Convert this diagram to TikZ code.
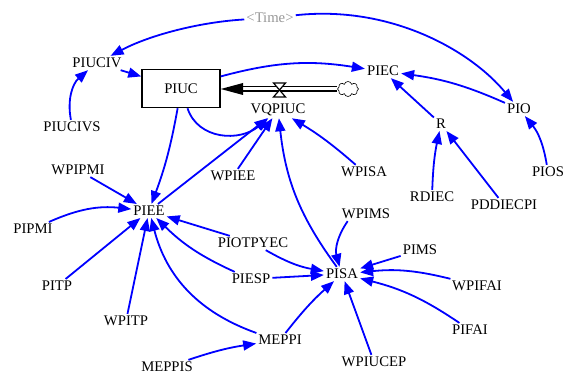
\documentclass[tikz,border=0pt]{standalone}
\usepackage{fontspec}
\setmainfont{Liberation Serif}
\usetikzlibrary{arrows.meta,shapes.symbols}
\definecolor{timegray}{RGB}{150,150,150}
\definecolor{linkblue}{RGB}{0,0,255}
\begin{document}
\begin{tikzpicture}[x=1pt,y=1pt,
  lbl/.style={inner sep=2pt, font=\fontsize{14.7}{17}\selectfont},
  conn/.style={draw=linkblue, line width=1.8pt, -{Triangle[length=13pt,width=10pt]}},
  stock/.style={draw, line width=1.5pt, minimum width=78pt, minimum height=38pt, inner sep=0pt, font=\fontsize{14.7}{17}\selectfont},
  pipe/.style={draw, line width=1.1pt, double distance=3pt},
  cloudbox/.style={cloud, cloud puffs=8, draw, line width=0.6pt, fill=white, minimum width=21pt, minimum height=15pt, inner sep=0pt}
]
\useasboundingbox (0,0) rectangle (573,-379);

% nodes
\node[lbl, text=timegray] (Time) at (270,-18) {<Time>};
\node[lbl] (PIUCIV) at (97,-63) {PIUCIV};
\node[stock] (PIUC) at (181,-88.5) {PIUC};
\node[lbl] (PIUCIVS) at (72,-127) {PIUCIVS};
\node[lbl] (PIEC) at (383,-71) {PIEC};
\node[lbl] (PIO) at (519,-109) {PIO};
\node[lbl] (R) at (441,-124) {R};
\node[lbl] (WPISA) at (364,-172) {WPISA};
\node[lbl] (PIOS) at (548,-172) {PIOS};
\node[lbl] (RDIEC) at (432,-197) {RDIEC};
\node[lbl] (PDDIECPI) at (504,-205) {PDDIECPI};
\node[lbl] (VQPIUC) at (278,-110) {VQPIUC};
\node[lbl] (PIEE) at (149,-211) {PIEE};
\node[lbl] (WPIPMI) at (78,-170) {WPIPMI};
\node[lbl] (WPIEE) at (233,-176) {WPIEE};
\node[lbl] (PIPMI) at (33,-229) {PIPMI};
\node[lbl] (PIOTPYEC) at (253,-243) {PIOTPYEC};
\node[lbl] (WPIMS) at (366,-214) {WPIMS};
\node[lbl] (PIMS) at (420,-250) {PIMS};
\node[lbl] (PISA) at (342,-274) {PISA};
\node[lbl] (PIESP) at (251,-279) {PIESP};
\node[lbl] (WPIFAI) at (477,-286) {WPIFAI};
\node[lbl] (PIFAI) at (470,-330) {PIFAI};
\node[lbl] (MEPPI) at (280,-340) {MEPPI};
\node[lbl] (WPIUCEP) at (374,-362) {WPIUCEP};
\node[lbl] (PITP) at (57,-286) {PITP};
\node[lbl] (WPITP) at (126,-321) {WPITP};
\node[lbl] (MEPPIS) at (167,-367) {MEPPIS};

% flow pipe with valve and cloud
\node[cloudbox] (cloud) at (348,-89) {};
\coordinate (pb) at (243,-89);
\draw[pipe] (cloud.west) -- (pb);
\fill[black] (PIUC.east |- pb) -- ([yshift=6pt]pb) -- ([yshift=-6pt]pb) -- cycle;
\filldraw[fill=white, line width=1.2pt] (273.5,-83) -- (285.5,-83) -- (273.5,-97) -- (285.5,-97) -- cycle;

% connectors
\draw[conn] (Time) .. controls (200,-22) and (150,-35) .. (PIUCIV);
\draw[conn] (Time) .. controls (390,-5) and (470,-50) .. (PIO);
\draw[conn] (PIUCIV) -- (PIUC);
\draw[conn] (PIUCIVS) to[bend left=30] (PIUCIV);
\draw[conn] (PIUC) to[bend left=12] (PIEC);
\draw[conn] (PIO) to[bend right=8] (PIEC);
\draw[conn] (R) -- (PIEC);
\draw[conn] (RDIEC) to[bend left=5] (R);
\draw[conn] (PDDIECPI) -- (R);
\draw[conn] (PIOS) to[bend right=15] (PIO);
\draw[conn] (WPISA) to[bend right=5] (VQPIUC);
\draw[conn] (PIUC) .. controls (198,-140) and (240,-142) .. (VQPIUC);
\draw[conn] (PIUC) to[bend left=5] (PIEE);
\draw[conn] (PIEE) -- (VQPIUC);
\draw[conn] (WPIEE) -- (VQPIUC);
\draw[conn] (PISA) to[bend left=15] (VQPIUC);
\draw[conn] (WPIPMI) -- (PIEE);
\draw[conn] (PIPMI) to[bend left=15] (PIEE);
\draw[conn] (PITP) -- (PIEE);
\draw[conn] (WPITP) -- (PIEE);
\draw[conn] (MEPPI) to[bend left=28] (PIEE);
\draw[conn] (PIESP) to[bend left=10] (PIEE);
\draw[conn] (PIOTPYEC) -- (PIEE);
\draw[conn] (PIOTPYEC) to[bend right=10] (PISA);
\draw[conn] (PIESP) -- (PISA);
\draw[conn] (MEPPI) to[bend left=5] (PISA);
\draw[conn] ([xshift=8pt]WPIMS.south west) to[bend right=25] (PISA);
\draw[conn] (PIMS) -- (PISA);
\draw[conn] (WPIFAI) to[bend right=10] (PISA);
\draw[conn] (PIFAI) to[bend right=10] (PISA);
\draw[conn] (WPIUCEP) -- (PISA);
\draw[conn] (MEPPIS) to[bend left=5] (MEPPI);
\end{tikzpicture}
\end{document}
